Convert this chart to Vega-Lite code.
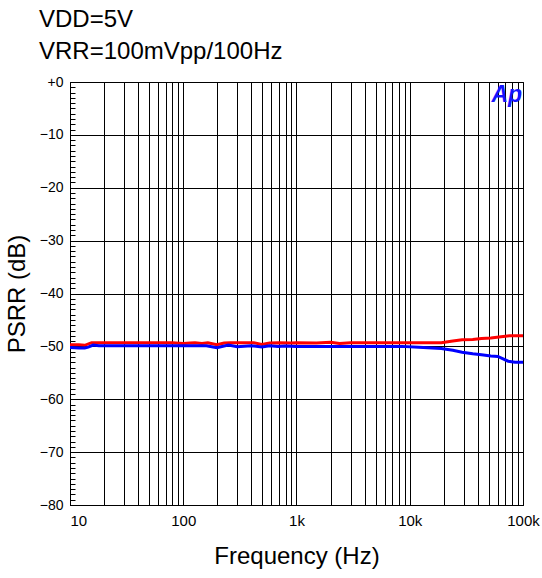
{
  "$schema": "https://vega.github.io/schema/vega-lite/v6.json",
  "autosize": {"type": "none"},
  "padding": {"left": 70, "top": 82, "right": 19, "bottom": 73},
  "width": 453,
  "height": 423,
  "background": "white",
  "config": {
    "font": "Liberation Sans",
    "view": {"stroke": "black", "strokeWidth": 1}
  },
  "title": {
    "text": ["VDD=5V", "VRR=100mVpp/100Hz"],
    "anchor": "start",
    "frame": "group",
    "dx": -31,
    "offset": 11,
    "fontSize": 24,
    "fontWeight": "normal",
    "lineHeight": 32,
    "color": "black"
  },
  "datasets": {
    "curves": [
      {"f": 10, "psrr": -49.7, "curve": "Curve 1"},
      {"f": 12, "psrr": -49.7, "curve": "Curve 1"},
      {"f": 13.5, "psrr": -49.8, "curve": "Curve 1"},
      {"f": 15.5, "psrr": -49.3, "curve": "Curve 1"},
      {"f": 20, "psrr": -49.3, "curve": "Curve 1"},
      {"f": 40, "psrr": -49.3, "curve": "Curve 1"},
      {"f": 80, "psrr": -49.3, "curve": "Curve 1"},
      {"f": 100, "psrr": -49.45, "curve": "Curve 1"},
      {"f": 115, "psrr": -49.35, "curve": "Curve 1"},
      {"f": 127, "psrr": -49.3, "curve": "Curve 1"},
      {"f": 146, "psrr": -49.45, "curve": "Curve 1"},
      {"f": 165, "psrr": -49.3, "curve": "Curve 1"},
      {"f": 198, "psrr": -49.7, "curve": "Curve 1"},
      {"f": 230, "psrr": -49.35, "curve": "Curve 1"},
      {"f": 260, "psrr": -49.3, "curve": "Curve 1"},
      {"f": 420, "psrr": -49.3, "curve": "Curve 1"},
      {"f": 494, "psrr": -49.65, "curve": "Curve 1"},
      {"f": 580, "psrr": -49.35, "curve": "Curve 1"},
      {"f": 700, "psrr": -49.3, "curve": "Curve 1"},
      {"f": 900, "psrr": -49.35, "curve": "Curve 1"},
      {"f": 1000, "psrr": -49.3, "curve": "Curve 1"},
      {"f": 1500, "psrr": -49.35, "curve": "Curve 1"},
      {"f": 2000, "psrr": -49.2, "curve": "Curve 1"},
      {"f": 2400, "psrr": -49.45, "curve": "Curve 1"},
      {"f": 3000, "psrr": -49.3, "curve": "Curve 1"},
      {"f": 6000, "psrr": -49.3, "curve": "Curve 1"},
      {"f": 10000, "psrr": -49.3, "curve": "Curve 1"},
      {"f": 19000, "psrr": -49.3, "curve": "Curve 1"},
      {"f": 24000, "psrr": -49.0, "curve": "Curve 1"},
      {"f": 29000, "psrr": -48.75, "curve": "Curve 1"},
      {"f": 36000, "psrr": -48.7, "curve": "Curve 1"},
      {"f": 43000, "psrr": -48.5, "curve": "Curve 1"},
      {"f": 52000, "psrr": -48.4, "curve": "Curve 1"},
      {"f": 64000, "psrr": -48.2, "curve": "Curve 1"},
      {"f": 76000, "psrr": -48.0, "curve": "Curve 1"},
      {"f": 100000, "psrr": -48.0, "curve": "Curve 1"},
      {"f": 10, "psrr": -50.2, "curve": "Curve 2"},
      {"f": 12, "psrr": -50.3, "curve": "Curve 2"},
      {"f": 13.5, "psrr": -50.3, "curve": "Curve 2"},
      {"f": 14.5, "psrr": -50.15, "curve": "Curve 2"},
      {"f": 16, "psrr": -49.75, "curve": "Curve 2"},
      {"f": 18, "psrr": -49.9, "curve": "Curve 2"},
      {"f": 40, "psrr": -49.9, "curve": "Curve 2"},
      {"f": 100, "psrr": -49.9, "curve": "Curve 2"},
      {"f": 160, "psrr": -49.9, "curve": "Curve 2"},
      {"f": 198, "psrr": -50.25, "curve": "Curve 2"},
      {"f": 250, "psrr": -49.75, "curve": "Curve 2"},
      {"f": 300, "psrr": -50.05, "curve": "Curve 2"},
      {"f": 400, "psrr": -49.9, "curve": "Curve 2"},
      {"f": 494, "psrr": -50.1, "curve": "Curve 2"},
      {"f": 580, "psrr": -49.9, "curve": "Curve 2"},
      {"f": 686, "psrr": -50.0, "curve": "Curve 2"},
      {"f": 800, "psrr": -49.95, "curve": "Curve 2"},
      {"f": 1000, "psrr": -50.0, "curve": "Curve 2"},
      {"f": 3000, "psrr": -50.0, "curve": "Curve 2"},
      {"f": 8500, "psrr": -50.0, "curve": "Curve 2"},
      {"f": 12000, "psrr": -50.15, "curve": "Curve 2"},
      {"f": 19000, "psrr": -50.4, "curve": "Curve 2"},
      {"f": 24000, "psrr": -50.75, "curve": "Curve 2"},
      {"f": 29000, "psrr": -51.1, "curve": "Curve 2"},
      {"f": 36000, "psrr": -51.4, "curve": "Curve 2"},
      {"f": 43000, "psrr": -51.6, "curve": "Curve 2"},
      {"f": 52000, "psrr": -51.8, "curve": "Curve 2"},
      {"f": 60000, "psrr": -51.9, "curve": "Curve 2"},
      {"f": 66000, "psrr": -52.3, "curve": "Curve 2"},
      {"f": 74000, "psrr": -52.8, "curve": "Curve 2"},
      {"f": 85000, "psrr": -53.0, "curve": "Curve 2"},
      {"f": 100000, "psrr": -53.0, "curve": "Curve 2"}
    ],
    "logo": [
      {"f": 72000, "psrr": -2.4, "label": "Ap"}
    ]
  },
  "layer": [
    {
      "data": {"name": "curves"},
      "mark": {"type": "line", "strokeWidth": 3, "interpolate": "linear", "clip": true},
      "encoding": {
        "x": {
          "field": "f",
          "type": "quantitative",
          "scale": {"type": "log", "domain": [10, 100000], "nice": false},
          "axis": {
            "title": "Frequency (Hz)",
            "titleFontSize": 24,
            "titleFontWeight": "normal",
            "titleColor": "black",
            "titlePadding": 16,
            "tickCount": 500,
            "values": [10,20,30,40,50,60,70,80,90,100,200,300,400,500,600,700,800,900,1000,2000,3000,4000,5000,6000,7000,8000,9000,10000,20000,30000,40000,50000,60000,70000,80000,90000,100000],
            "labelExpr": "datum.value == 10 ? '10' : datum.value == 100 ? '100' : datum.value == 1000 ? '1k' : datum.value == 10000 ? '10k' : datum.value == 100000 ? '100k' : ''",
            "labelAlign": {"condition": {"test": "datum.value == 10", "value": "left"}, "value": "center"},
            "labelFontSize": 15,
            "labelColor": "black",
            "labelPadding": 8,
            "labelOverlap": false,
            "labelBound": false,
            "labelFlush": false,
            "ticks": false,
            "grid": true,
            "gridColor": "black",
            "gridOpacity": 1,
            "gridWidth": 1,
            "domainColor": "black"
          }
        },
        "y": {
          "field": "psrr",
          "type": "quantitative",
          "scale": {"domain": [-80, 0], "nice": false},
          "axis": {
            "title": "PSRR (dB)",
            "titleFontSize": 24,
            "titleFontWeight": "normal",
            "titleColor": "black",
            "titlePadding": 10,
            "tickCount": 500,
            "offset": -5,
            "values": [-80,-79,-78,-77,-76,-75,-74,-73,-72,-71,-70,-69,-68,-67,-66,-65,-64,-63,-62,-61,-60,-59,-58,-57,-56,-55,-54,-53,-52,-51,-50,-49,-48,-47,-46,-45,-44,-43,-42,-41,-40,-39,-38,-37,-36,-35,-34,-33,-32,-31,-30,-29,-28,-27,-26,-25,-24,-23,-22,-21,-20,-19,-18,-17,-16,-15,-14,-13,-12,-11,-10,-9,-8,-7,-6,-5,-4,-3,-2,-1,0],
            "labelExpr": "datum.value % 10 == 0 ? (datum.value == 0 ? '+0' : format(datum.value, 'd')) : ''",
            "labelFontSize": 14,
            "labelColor": "black",
            "labelPadding": 7,
            "labelOverlap": false,
            "labelBound": false,
            "ticks": true,
            "tickSize": 5,
            "tickWidth": 1,
            "tickColor": "black",
            "grid": true,
            "gridColor": "black",
            "gridOpacity": {"condition": {"test": "datum.value % 10 == 0", "value": 1}, "value": 0},
            "gridWidth": 1,
            "domain": false
          }
        },
        "color": {
          "field": "curve",
          "type": "nominal",
          "scale": {"domain": ["Curve 2", "Curve 1"], "range": ["#0000ff", "#ff0000"]},
          "legend": null
        },
        "order": {"field": "f", "type": "quantitative"}
      }
    },
    {
      "data": {"name": "logo"},
      "mark": {"type": "text", "fontSize": 23, "fontWeight": "bold", "fontStyle": "italic", "color": "#1414ff", "align": "center", "baseline": "middle"},
      "encoding": {
        "x": {"field": "f", "type": "quantitative"},
        "y": {"field": "psrr", "type": "quantitative"},
        "text": {"field": "label"}
      }
    }
  ]
}
